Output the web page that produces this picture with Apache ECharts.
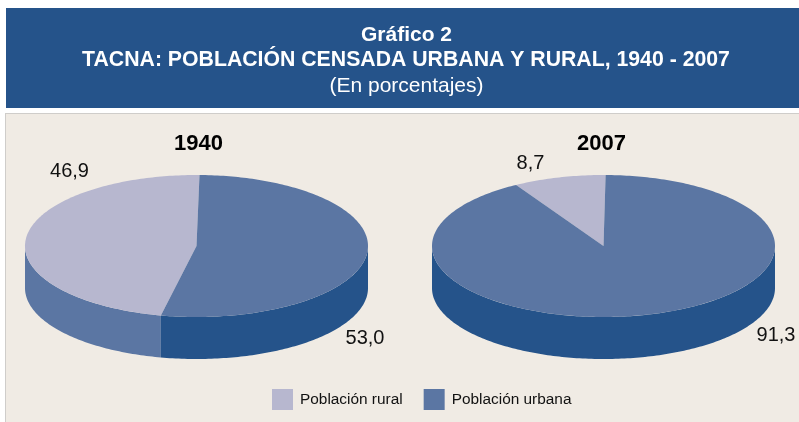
<!DOCTYPE html>
<html>
<head>
<meta charset="utf-8">
<title>Gráfico 2</title>
<script src="https://cdn.jsdelivr.net/npm/echarts@6/dist/echarts.min.js"></script>
<style>
  html, body { margin: 0; padding: 0; background: #fff; }
  #main { width: 799px; height: 422px; }
</style>
</head>
<body>
<div id="main"></div>
<script>
// datos
var years = ['1940', '2007'];
var rural = [46.9, 8.7];
var urbana = [53.0, 91.3];

// geometria de las tortas, una por anio
var font = '"Liberation Sans", Arial, sans-serif';
var centers = [[196.5, 246], [603.5, 246]];
var rx = 171.5, ry = 71, depth = 42;
var startAngle = [1, 0.7];
var ruralLabel = [[69.5, 171], [530.5, 163]];
var urbanaLabel = [[365, 338], [776, 335]];

var lila = '#B7B7CF', azulMedio = '#5B76A3', azulOscuro = '#25538A';

function arc(c, from, to, dy) {
  var pts = [];
  var n = Math.max(2, Math.ceil(Math.abs(to - from)));
  for (var i = 0; i <= n; i++) {
    var t = (from + (to - from) * i / n) * Math.PI / 180;
    pts.push([c[0] + rx * Math.sin(t), c[1] - ry * Math.cos(t) + dy]);
  }
  return pts;
}

// dibuja una porcion: cara superior, pared lateral y etiqueta
function slice(faceColor, wallColor, labels, isRural) {
  return function (params, api) {
    var i = params.dataIndex;
    var v = api.value(0);
    var total = rural[i] + urbana[i];
    var from = startAngle[i] + (isRural ? urbana[i] / total * 360 : 0);
    var to = from + v / total * 360;
    var c = centers[i];
    var children = [];

    // la pared solo se ve en la mitad de abajo
    var a = Math.max(from, 90), b = Math.min(to, 270);
    if (b > a) {
      children.push({
        type: 'polygon',
        z2: 1,
        shape: { points: arc(c, a, b, 0).concat(arc(c, b, a, depth)) },
        style: { fill: wallColor }
      });
    }
    children.push({
      type: 'polygon',
      z2: 2,
      shape: { points: [c].concat(arc(c, from, to, 0)) },
      style: { fill: faceColor }
    });
    children.push({
      type: 'text',
      z2: 3,
      x: labels[i][0],
      y: labels[i][1],
      style: {
        text: v.toFixed(1).replace('.', ','),
        font: '20px ' + font,
        fill: '#111',
        align: 'center',
        verticalAlign: 'middle'
      }
    });
    return { type: 'group', children: children };
  };
}

var chart = echarts.init(document.getElementById('main'));
chart.setOption({
  animation: false,
  graphic: [
    { type: 'rect', z: -2, shape: { x: 6, y: 8, width: 793, height: 100 }, style: { fill: azulOscuro } },
    { type: 'rect', z: -2, shape: { x: 5, y: 113, width: 794, height: 309 }, style: { fill: '#CFCDCA' } },
    { type: 'rect', z: -1, shape: { x: 6, y: 114, width: 793, height: 308 }, style: { fill: '#F0EBE4' } }
  ],
  // el titulo suma 5px de padding a left
  title: [
    { text: 'Gráfico 2', left: 401.5, top: 20, textAlign: 'center', textStyle: { color: '#fff', fontFamily: font, fontSize: 21, fontWeight: 'bold' } },
    { text: 'TACNA: POBLACIÓN CENSADA URBANA Y RURAL, 1940 - 2007', left: 401, top: 45, textAlign: 'center', textStyle: { color: '#fff', fontFamily: font, fontSize: 21.25, fontWeight: 'bold' } },
    { text: '(En porcentajes)', left: 401.5, top: 71, textAlign: 'center', textStyle: { color: '#fff', fontFamily: font, fontSize: 21, fontWeight: 'normal' } },
    { text: years[0], left: 193.5, top: 128, textAlign: 'center', textStyle: { color: '#000', fontFamily: font, fontSize: 22, fontWeight: 'bold' } },
    { text: years[1], left: 596.5, top: 128, textAlign: 'center', textStyle: { color: '#000', fontFamily: font, fontSize: 22, fontWeight: 'bold' } }
  ],
  legend: {
    left: 267,
    top: 384,
    icon: 'rect',
    itemWidth: 21,
    itemHeight: 21,
    itemGap: 21,
    textStyle: { fontFamily: font, fontSize: 15.4, color: '#111', padding: [0, 0, 0, 2] },
    data: ['Población rural', 'Población urbana']
  },
  series: [
    {
      name: 'Población rural',
      type: 'custom',
      coordinateSystem: 'none',
      itemStyle: { color: lila },
      renderItem: slice(lila, azulMedio, ruralLabel, true),
      data: rural.map(function (v) { return [v]; })
    },
    {
      name: 'Población urbana',
      type: 'custom',
      coordinateSystem: 'none',
      itemStyle: { color: azulMedio },
      renderItem: slice(azulMedio, azulOscuro, urbanaLabel, false),
      data: urbana.map(function (v) { return [v]; })
    }
  ]
});
</script>
</body>
</html>
